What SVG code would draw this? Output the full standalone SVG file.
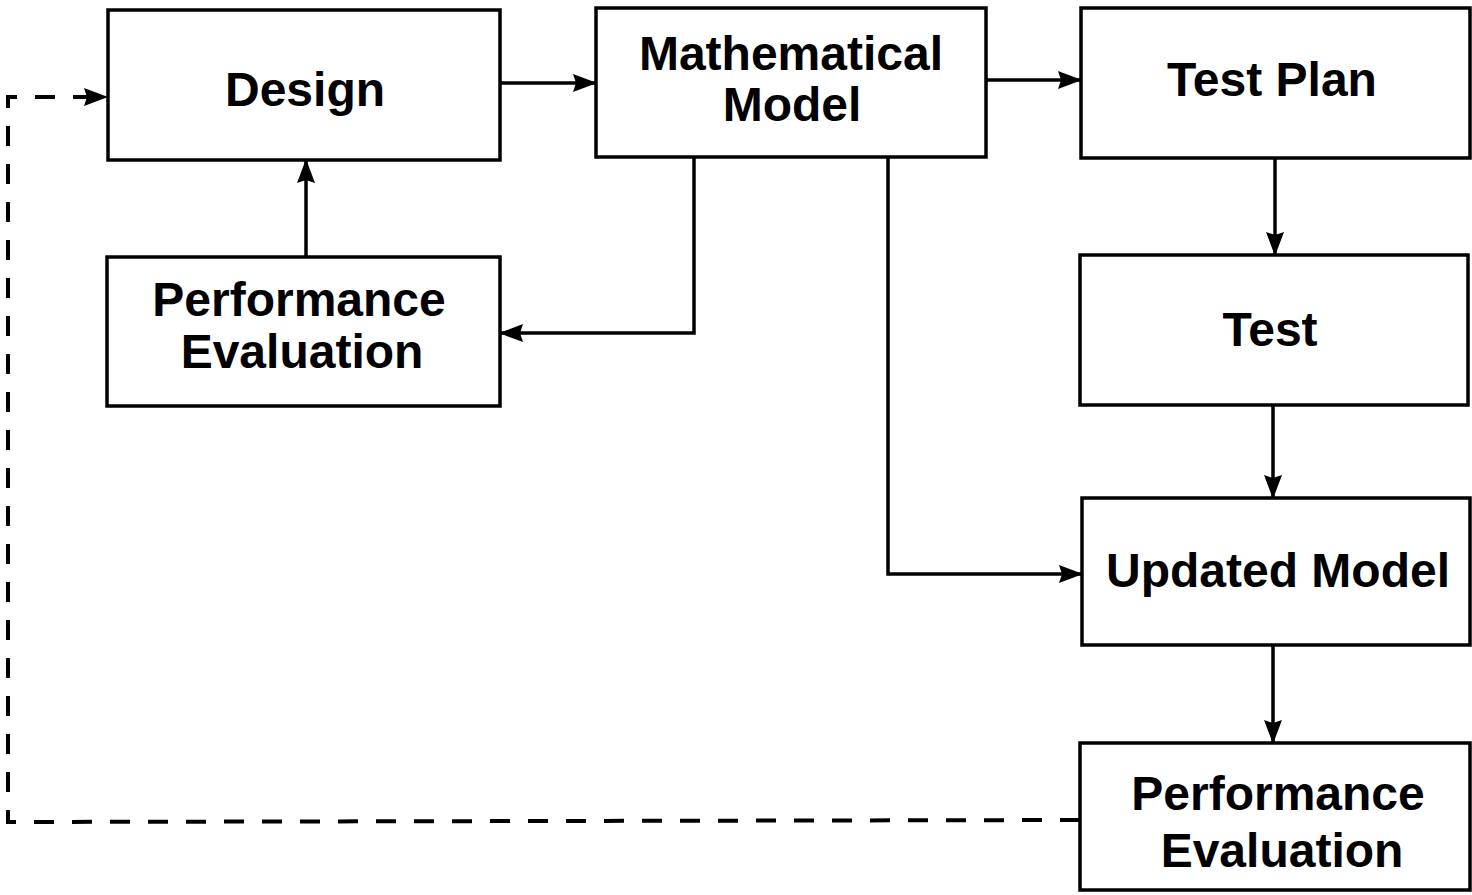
<svg xmlns="http://www.w3.org/2000/svg" width="1472" height="895" viewBox="0 0 1472 895">
<defs>
<marker id="ah" viewBox="0 0 24 18" refX="23" refY="9" markerWidth="24" markerHeight="18" markerUnits="userSpaceOnUse" orient="auto">
<path d="M0,0 L24,9 L0,18 L3,9 Z" fill="#000"/>
</marker>
<style>
.box{fill:#fff;stroke:#000;stroke-width:3.5}
.lbl{font-family:"Liberation Sans",Arial,sans-serif;font-weight:bold;font-size:48px;fill:#000;text-anchor:middle}
.c{fill:none;stroke:#000;stroke-width:3.5}
.d{fill:none;stroke:#000;stroke-width:4;stroke-dasharray:20 18}
</style>
</defs>
<rect width="1472" height="895" fill="#fff"/>
<g id="connectors">
<line class="c" x1="500" y1="83" x2="596" y2="83" marker-end="url(#ah)"/>
<line class="c" x1="986" y1="80" x2="1081" y2="80" marker-end="url(#ah)"/>
<line class="c" x1="1275" y1="158" x2="1275" y2="255" marker-end="url(#ah)"/>
<line class="c" x1="1273" y1="405" x2="1273" y2="498" marker-end="url(#ah)"/>
<line class="c" x1="1273" y1="645" x2="1273" y2="743" marker-end="url(#ah)"/>
<line class="c" x1="306" y1="257" x2="306" y2="160" marker-end="url(#ah)"/>
<polyline class="c" points="694,157 694,333 500,333" marker-end="url(#ah)"/>
<polyline class="c" points="888,157 888,574 1082,574" marker-end="url(#ah)"/>
<polyline class="d" points="1080,820 8,822 8,97 90,97"/>
<path d="M84,88 L108,97 L84,106 L87,97 Z" fill="#000"/>
</g>
<g id="design"><rect class="box" x="108" y="10" width="392" height="150"/><text class="lbl" x="305" y="106">Design</text></g>
<g id="math-model"><rect class="box" x="596" y="8" width="390" height="149"/><text class="lbl" x="791" y="70">Mathematical</text><text class="lbl" x="792" y="121">Model</text></g>
<g id="test-plan"><rect class="box" x="1081" y="8" width="389" height="150"/><text class="lbl" x="1272" y="96">Test Plan</text></g>
<g id="perf-eval-left"><rect class="box" x="107" y="257" width="393" height="149"/><text class="lbl" x="299" y="316">Performance</text><text class="lbl" x="302" y="368">Evaluation</text></g>
<g id="test"><rect class="box" x="1080" y="255" width="388" height="150"/><text class="lbl" x="1270" y="346">Test</text></g>
<g id="updated-model"><rect class="box" x="1082" y="498" width="388" height="147"/><text class="lbl" x="1278" y="587">Updated Model</text></g>
<g id="perf-eval-right"><rect class="box" x="1080" y="743" width="390" height="147"/><text class="lbl" x="1278" y="810">Performance</text><text class="lbl" x="1282" y="867">Evaluation</text></g>
</svg>
